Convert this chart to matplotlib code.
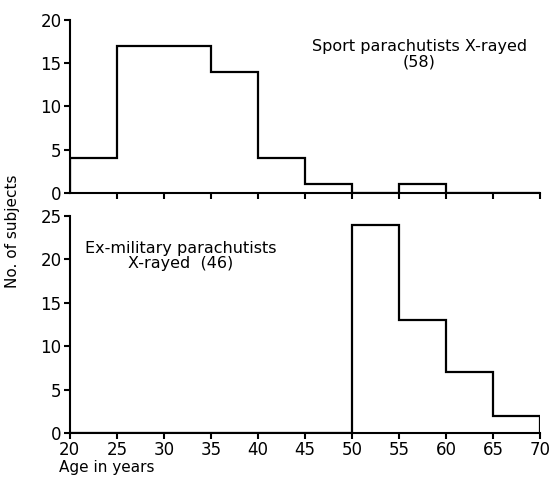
import matplotlib
matplotlib.use("Agg")
import matplotlib.pyplot as plt
import numpy as np

### age bins (5 year groups) and counts for both groups
age_edges = [20, 25, 30, 35, 40, 45, 50, 55, 60, 65, 70]
sport_counts = [4, 17, 17, 14, 4, 1, 0, 1, 0, 0]
military_counts = [0, 0, 0, 0, 0, 0, 24, 13, 7, 2]
x_ticks = [20, 25, 30, 35, 40, 45, 50, 55, 60, 65, 70]
top_yticks = [0, 5, 10, 15, 20]
bottom_yticks = [0, 5, 10, 15, 20, 25]

fig = plt.figure(figsize=(5.54, 4.82), dpi=100)
ax1 = fig.add_axes([0.126, 0.5996, 0.849, 0.359])
ax2 = fig.add_axes([0.126, 0.1017, 0.849, 0.4503])

for ax in (ax1, ax2):
    ax.spines["top"].set_visible(False)
    ax.spines["right"].set_visible(False)
    ax.spines["left"].set_linewidth(1.5)
    ax.spines["bottom"].set_linewidth(1.5)
    ax.set_xlim(20, 70)
    ax.tick_params(direction="out", length=4, width=1.5, labelsize=12, pad=2)

### top panel - sport parachutists
ax1.stairs(sport_counts, age_edges, color="black", linewidth=1.6)
ax1.set_ylim(0, 20)
ax1.set_yticks(top_yticks)
ax1.set_xticks(x_ticks[1:])
ax1.set_xticklabels([])
ax1.text(0.743, 0.80, "Sport parachutists X-rayed\n(58)", transform=ax1.transAxes,
         ha="center", va="center", fontsize=11.5, linespacing=1.05)

### bottom panel - ex-military parachutists
ax2.stairs(military_counts, age_edges, color="black", linewidth=1.6)
ax2.set_ylim(0, 25)
ax2.set_yticks(bottom_yticks)
ax2.set_xticks(x_ticks)
ax2.text(0.236, 0.815, "Ex-military parachutists\nX-rayed  (46)", transform=ax2.transAxes,
         ha="center", va="center", fontsize=11.5, linespacing=1.05)
ax2.set_xlabel("Age in years", fontsize=11)
ax2.xaxis.label.set_ha("left")
ax2.xaxis.set_label_coords(-0.022, -0.125)

fig.text(0.022, 0.52, "No. of subjects", rotation=90, ha="center", va="center", fontsize=11)

plt.savefig("out.png", dpi=100)
